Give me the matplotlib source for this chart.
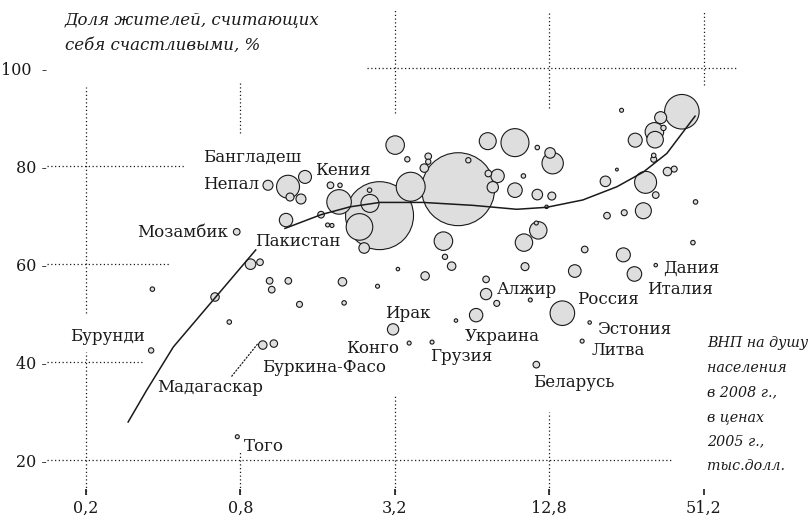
import matplotlib.pyplot as plt

# ВНП на душу населения (тыс. долл.), доля счастливых (%), население (млн)
gdp = [1.025, 1.227, 1.429, 1.249, 1.378, 1.796, 1.956, 1.94, 2.56, 2.55,
       2.33, 1.205, 1.65, 1.75, 1.82, 0.774, 2.43, 0.876, 0.954, 3.21,
       3.58, 4.32, 4.32, 4.17, 3.69, 5.65, 2.79, 4.95, 5.02, 5.33,
       6.19, 7.37, 9.41, 11.5, 12.9, 13.2, 7.41, 8.05, 7.71, 10.15,
       9.41, 11.5, 13.1, 12.5, 11.4, 11.6, 10.2, 17.6, 24.9, 21.2,
       23.5, 27.7, 33.1, 32.9, 35.7, 34.8, 42.1, 24.5, 32.7, 32.7,
       30.4, 33.3, 37.0, 39.3, 47.6, 21.5, 25.1, 29.8, 46.5, 33.3,
       27.5, 16.1, 10.3, 7.26, 7.26, 7.99, 10.8, 14.4, 6.64, 5.54,
       18.4, 17.2, 11.4, 3.64, 4.47, 3.15, 4.20, 3.29, 2.0, 2.74,
       2.03, 1.04, 1.23, 1.06, 1.36, 0.363, 0.637, 0.724, 0.359, 0.978,
       1.08, 0.778]
happy = [76.1, 75.8, 77.8, 73.7, 73.3, 76.1, 76.1, 72.7, 72.4, 75.1,
         67.6, 69.0, 70.1, 68.0, 67.9, 66.6, 63.3, 60.0, 60.4, 84.3,
         81.4, 82.0, 80.9, 79.6, 75.8, 75.3, 69.9, 64.7, 61.5, 59.6,
         81.2, 85.1, 84.8, 83.8, 82.7, 80.6, 78.5, 78.0, 75.7, 78.0,
         75.1, 74.2, 73.9, 71.7, 68.4, 66.9, 64.4, 63.0, 61.9, 76.9,
         79.3, 85.3, 85.4, 87.0, 87.8, 89.9, 91.1, 91.4, 82.2, 81.4,
         76.7, 74.1, 78.9, 79.4, 72.7, 69.9, 70.5, 70.9, 64.4, 59.8,
         58.0, 58.6, 59.5, 56.9, 53.9, 52.0, 52.7, 50.0, 49.6, 48.5,
         48.1, 44.3, 39.5, 43.9, 44.1, 46.7, 57.6, 59.0, 56.4, 55.5,
         52.1, 56.6, 56.6, 54.8, 51.8, 54.9, 53.3, 48.2, 42.4, 43.5,
         43.8, 24.8]
pop = [25, 132, 42, 16, 25, 11, 5, 151, 81, 5,
       177, 45, 11, 4, 4, 11, 28, 28, 11, 86,
       7, 11, 7, 18, 210, 1332, 1156, 86, 7, 18,
       7, 72, 196, 5, 28, 114, 11, 45, 32, 5,
       53, 28, 16, 3, 4, 76, 76, 11, 49, 28,
       2, 49, 69, 86, 7, 36, 299, 4, 5, 9,
       121, 11, 18, 9, 5, 11, 9, 64, 5, 3,
       53, 40, 16, 11, 32, 9, 4, 151, 45, 3,
       3, 4, 11, 4, 4, 32, 18, 3, 18, 4,
       5, 11, 11, 11, 9, 5, 18, 5, 7, 18,
       14, 4]

# линия тренда
fit_gdp = [0.292, 0.345, 0.438, 0.627, 0.918, 1.194, 1.65, 2.14, 2.8, 4.12,
           6.46, 9.56, 12.5, 17.3, 23.5, 29.8, 36.8, 42.6, 47.4]
fit_happy = [27.8, 34.3, 43.1, 52.7, 62.9, 67.3, 70.1, 71.7, 72.6, 72.6,
             72.0, 71.2, 71.6, 73.1, 75.8, 78.8, 82.6, 87.0, 90.2]
fit_gap = 5  # линия прерывается под подписью «Пакистан»

x_ticks = [0.2, 0.8, 3.2, 12.8, 51.2]
x_tick_labels = ['0,2', '0,8', '3,2', '12,8', '51,2']
y_ticks = [20, 40, 60, 80, 100]
y_tick_labels = ['20 -', '40 -', '60 -', '80 -', '100  -']

labels = [
    ('Бангладеш', 0.572, 81.8, 'left'),
    ('Кения', 1.563, 79.2, 'left'),
    ('Непал', 0.946, 76.2, 'right'),
    ('Мозамбик', 0.716, 66.5, 'right'),
    ('Пакистан', 0.912, 64.7, 'left'),
    ('Бурунди', 0.173, 45.3, 'left'),
    ('Мадагаскар', 0.378, 34.9, 'left'),
    ('Буркина-Фасо', 0.971, 39.0, 'left'),
    ('Конго', 3.32, 42.7, 'right'),
    ('Ирак', 2.93, 50.0, 'left'),
    ('Украина', 6.01, 45.3, 'left'),
    ('Грузия', 4.39, 41.2, 'left'),
    ('Алжир', 8.01, 54.9, 'left'),
    ('Россия', 16.4, 52.7, 'left'),
    ('Дания', 35.6, 59.2, 'left'),
    ('Италия', 30.8, 54.9, 'left'),
    ('Эстония', 19.7, 46.7, 'left'),
    ('Литва', 18.8, 42.4, 'left'),
    ('Беларусь', 11.07, 35.9, 'left'),
    ('Того', 0.826, 22.9, 'left'),
]

# куски пунктирной сетки
vgrid = {0.2: [(50.0, 96.1), (12.9, 42.0)], 0.8: [(86.7, 96.9), (12.9, 21.6)],
         3.2: [(90.8, 111.8), (12.9, 33.3)], 12.8: [(91.8, 111.4), (12.9, 29.8)],
         51.2: [(96.5, 111.4)]}
hgrid = {100: [(2.49, 69.7)], 80: [(0.141, 0.486)], 60: [(0.141, 0.425)],
         40: [(0.141, 0.331)], 20: [(0.141, 38.6)]}

ink = '#1a1a1a'
plt.rcParams['font.family'] = 'DejaVu Serif'

fig = plt.figure(figsize=(8.11, 5.19), dpi=100)
ax = fig.add_axes([0.058, 0.0462, 0.8606, 0.9538])
ax.set_xscale('log', base=2)
ax.set_xlim(0.141, 74.2)
ax.set_ylim(12.9, 113.9)

for x, segs in vgrid.items():
    for y0, y1 in segs:
        ax.plot([x, x], [y0, y1], color=ink, lw=0.9, ls=(0, (1, 2)), zorder=1)
for y, segs in hgrid.items():
    for x0, x1 in segs:
        ax.plot([x0, x1], [y, y], color=ink, lw=0.9, ls=(0, (1, 2)), zorder=1)

order = sorted(range(len(pop)), key=lambda i: -pop[i])
ax.scatter([gdp[i] for i in order], [happy[i] for i in order],
           s=[2.07 * pop[i] for i in order], facecolor='#dedede',
           edgecolor=ink, linewidth=0.8, zorder=3)

ax.plot(fit_gdp[:fit_gap], fit_happy[:fit_gap], color=ink, lw=1.1, zorder=4)
ax.plot(fit_gdp[fit_gap:], fit_happy[fit_gap:], color=ink, lw=1.1, zorder=4)

for name, x, y, ha in labels:
    ax.text(x, y, name, ha=ha, va='center', fontsize=12, color=ink, zorder=5)

ax.annotate('', xy=(0.946, 44.1), xytext=(0.729, 36.7),
            arrowprops=dict(arrowstyle='-', linestyle=':', lw=0.9, color=ink))

for s in ax.spines.values():
    s.set_visible(False)
ax.set_xticks(x_ticks)
ax.set_xticklabels(x_tick_labels)
ax.minorticks_off()
ax.set_yticks(y_ticks)
ax.set_yticklabels(y_tick_labels)
ax.tick_params(axis='x', direction='in', length=4, width=1.2, color=ink,
               pad=3.5, labelsize=11.5, labelcolor=ink)
ax.tick_params(axis='y', length=0, pad=0, labelsize=11.5, labelcolor=ink)

fig.text(65 / 811, 1 - 20 / 519, 'Доля жителей, считающих', style='italic',
         fontsize=12, color=ink, va='center')
fig.text(65 / 811, 1 - 45 / 519, 'себя счастливыми, %', style='italic',
         fontsize=12, color=ink, va='center')
note = ['ВНП на душу', 'населения', 'в 2008 г.,', 'в ценах', '2005 г.,', 'тыс.долл.']
for k, line in enumerate(note):
    fig.text(707 / 811, 1 - (343 + 24.6 * k) / 519, line, style='italic',
             fontsize=10.3, color=ink, va='center')

fig.savefig('out.png', dpi=100)
